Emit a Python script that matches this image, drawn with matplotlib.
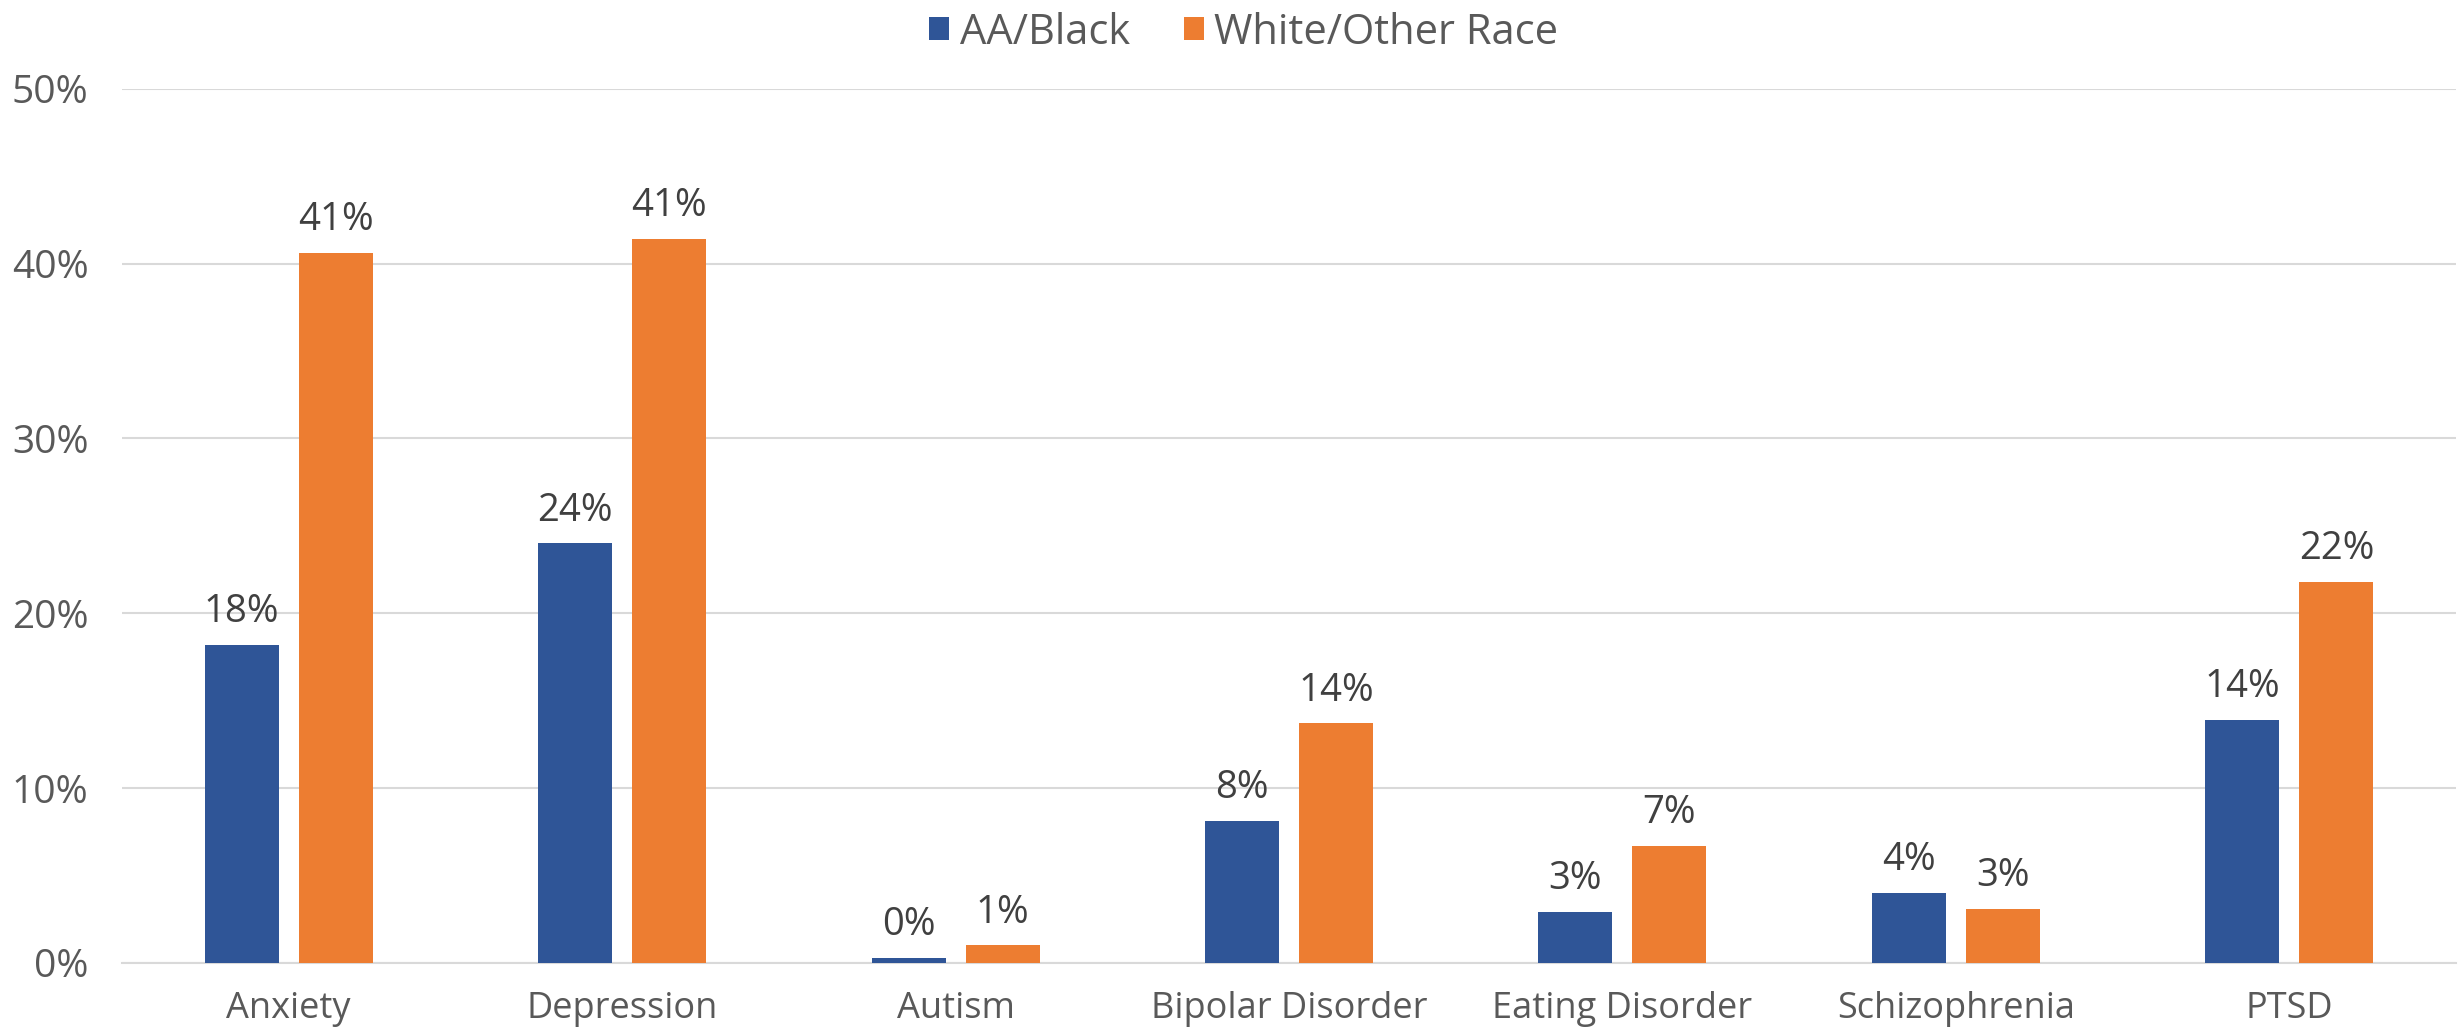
import numpy as np
import matplotlib.pyplot as plt
from matplotlib.ticker import PercentFormatter

categories = ['Anxiety', 'Depression', 'Autism', 'Bipolar Disorder',
              'Eating Disorder', 'Schizophrenia', 'PTSD']
aa_black = [18.2, 24.0, 0.3, 8.1, 2.9, 4.0, 13.9]
white_other = [40.6, 41.4, 1.0, 13.7, 6.7, 3.1, 21.8]
series_names = ['AA/Black', 'White/Other Race']

plt.rcParams['font.family'] = ['Open Sans', 'DejaVu Sans']

fig = plt.figure(figsize=(24.58, 10.32), dpi=100)
ax = fig.add_axes([0.0496, 0.0669, 0.9496, 0.847])

x = np.arange(len(categories))
w = 0.222
off = 0.141
b1 = ax.bar(x - off, aa_black, w, color='#2f5597', label=series_names[0], zorder=3)
b2 = ax.bar(x + off, white_other, w, color='#ed7d31', label=series_names[1], zorder=3)

for bars, vals in ((b1, aa_black), (b2, white_other)):
    for r, v in zip(bars, vals):
        ax.annotate('%d%%' % round(v), (r.get_x() + r.get_width() / 2, v),
                    xytext=(0, 10), textcoords='offset points',
                    ha='center', va='bottom', fontsize=27.5, color='#404040')

ax.set_xlim(-0.5, len(categories) - 0.5)
ax.set_ylim(0, 50)
ax.set_yticks(np.arange(0, 51, 10))
ax.yaxis.set_major_formatter(PercentFormatter(decimals=0))
ax.set_xticks(x)
ax.set_xticklabels(categories)
ax.tick_params(axis='x', length=0, labelsize=26, labelcolor='#595959', pad=20)
ax.tick_params(axis='y', length=0, labelsize=28, labelcolor='#595959', pad=24)
ax.grid(axis='y', color='#d9d9d9', linewidth=1.5, zorder=0)
for s in ['top', 'right', 'left']:
    ax.spines[s].set_visible(False)
ax.spines['bottom'].set_color('#d9d9d9')
ax.spines['bottom'].set_linewidth(1.5)

fig.legend(loc='upper center', bbox_to_anchor=(0.506, 1.025), ncol=2, frameon=False,
           fontsize=30, labelcolor='#595959', handlelength=0.48, handleheight=0.48,
           handletextpad=0.25, columnspacing=1.3)

fig.savefig('out.png', dpi=100)
